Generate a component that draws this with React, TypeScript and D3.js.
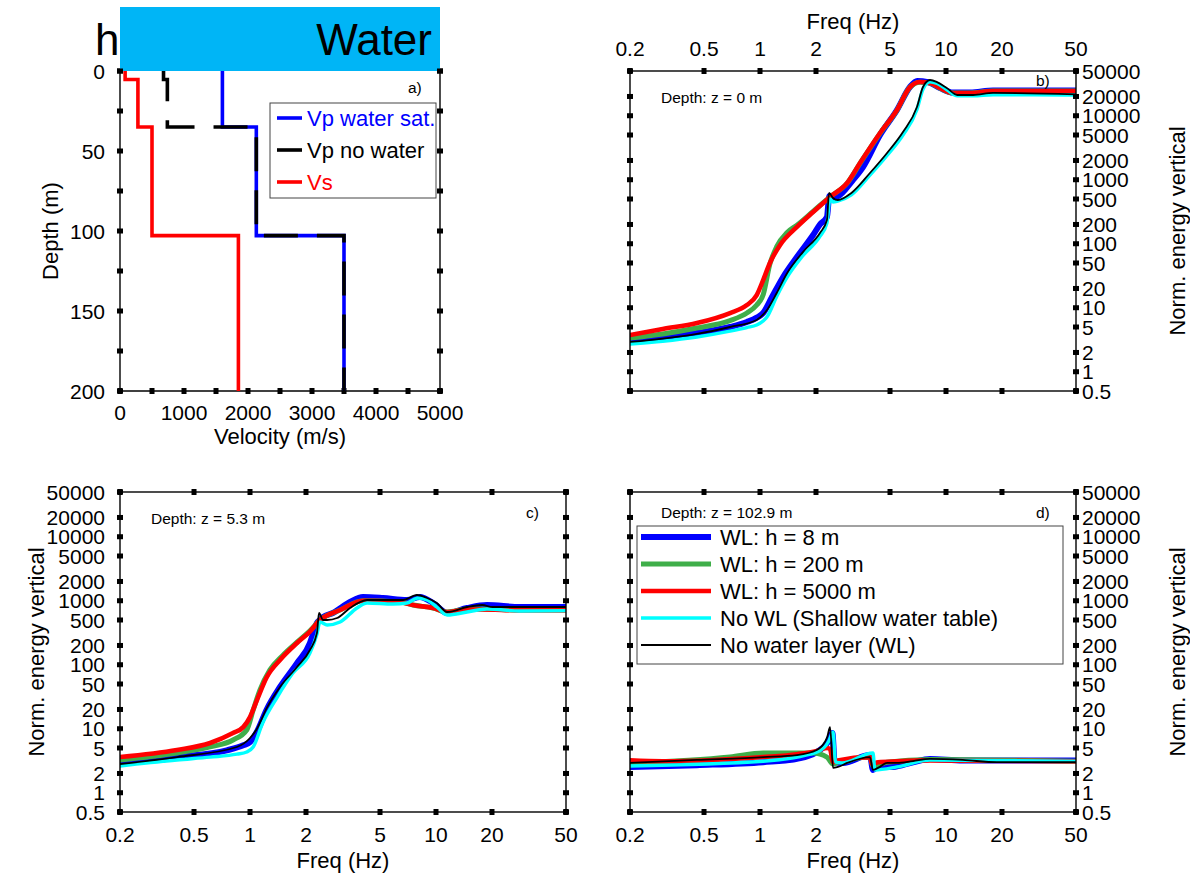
import React from 'react';
import * as d3 from 'd3';

// ---------- ticks ----------
const freqTicks = [0.2, 0.5, 1, 2, 5, 10, 20, 50];
const energyTicks = [0.5, 1, 2, 5, 10, 20, 50, 100, 200, 500, 1000, 2000, 5000, 10000, 20000, 50000];
const depthTicks = [0, 25, 50, 75, 100, 125, 150, 175, 200];
const depthLabels = [0, 50, 100, 150, 200];
const velTicks = [0, 500, 1000, 1500, 2000, 2500, 3000, 3500, 4000, 4500, 5000];
const velLabels = [0, 1000, 2000, 3000, 4000, 5000];

// ---------- panel a: velocity profiles ----------
const layerTops = [0, 5.3, 35, 102.9];
const maxDepth = 200;
const vsLayers = [80, 280, 500, 1850];
const vpSatLayers = [1600, 1600, 2130, 3500];
const vpDryLayers = [680, 740, 2130, 3500];
const profileNames = ['Vp water sat.', 'Vp no water', 'Vs'];

// ---------- panel b: z = 0 m ----------
const bH8 = [[0.2,2.92],[0.3,3.3],[0.458,4.03],[0.69,5.0],[0.85,5.98],[0.96,7.0],[1.04,8.27],[1.16,14.7],[1.33,30],[1.58,62],[1.93,137],[2.1,200],[2.29,262],[2.36,560],[2.45,520],[2.6,540],[3.16,990],[3.58,1580],[4.42,5000],[5.45,12300],[6.4,28100],[7.0,35000],[8.0,33500],[9.28,27100],[10.9,23000],[13.5,23000],[17.9,24800],[50,24800]];
const bH200 = [[0.2,3.37],[0.3,3.9],[0.458,4.82],[0.69,6.3],[0.85,8.27],[0.96,11],[1.04,16],[1.13,48],[1.23,90],[1.4,150],[1.58,195],[1.93,320],[2.38,540],[2.94,880],[3.45,1800],[4.42,5300],[5.45,12200],[6.4,28000],[7.25,33500],[8.2,32400],[9.28,27000],[10.9,22700],[13.5,22700],[17.9,24300],[50,24300]];
const bH5000 = [[0.2,3.75],[0.3,4.65],[0.458,5.77],[0.69,8.27],[0.85,11],[0.96,15.8],[1.04,27],[1.13,50],[1.28,95],[1.58,183],[1.93,313],[2.38,537],[2.94,889],[3.45,1826],[4.42,5370],[5.45,12300],[6.4,28100],[7.25,33600],[8.2,32500],[9.28,27100],[10.9,22700],[13.5,22700],[17.9,24400],[50,24400]];
const bShallow = [[0.2,2.71],[0.3,3.0],[0.458,3.49],[0.69,4.3],[0.85,4.9],[0.96,5.37],[1.04,6.2],[1.09,7.16],[1.23,15],[1.4,30],[1.7,65],[2.1,130],[2.29,210],[2.38,500],[2.47,449],[2.62,465],[3.1,580],[3.9,1180],[4.82,2400],[5.87,5000],[6.98,12500],[7.52,26000],[8.2,34000],[8.95,32000],[10.1,25500],[11.5,20500],[14,20500],[17.9,21300],[50,21000]];
const bNoWL = [[0.2,2.92],[0.3,3.3],[0.458,3.89],[0.69,5.0],[0.96,6.44],[1.09,9.22],[1.23,17],[1.4,34.9],[1.7,74],[2.1,147],[2.29,235],[2.35,621],[2.47,519],[2.62,482],[3.1,621],[3.9,1274],[4.82,2620],[5.87,5570],[6.98,13700],[7.52,28100],[8.2,36200],[8.95,33600],[10.1,27100],[11.5,21100],[14,21100],[17.9,22700],[50,21500]];

// ---------- panel c: z = 5.3 m ----------
const cH8 = [[0.2,2.92],[0.405,3.61],[0.75,4.6],[0.92,5.5],[1.0,6.2],[1.09,9],[1.23,20],[1.45,45],[1.79,106],[2.1,218],[2.18,300],[2.29,449],[2.38,500],[2.47,557],[2.79,643],[3.45,955],[4.05,1143],[5.19,1104],[6.98,1027],[8.2,1143],[9.64,922],[11.5,643],[14.7,770],[18.8,857],[28.3,798],[50,798]];
const cH200 = [[0.2,3.25],[0.405,4.18],[0.61,5.2],[0.81,6.67],[0.96,9.55],[1.04,19.6],[1.13,40],[1.28,83],[1.5,140],[1.79,225],[2.1,340],[2.38,500],[3.05,716],[4.05,1000],[6.4,955],[7.52,857],[9.64,770],[11.5,667],[14.7,743],[17.7,743],[28.3,716],[50,716]];
const cH5000 = [[0.2,3.61],[0.405,4.65],[0.61,5.98],[0.81,8.57],[0.92,10.6],[1.0,15.2],[1.09,28.1],[1.23,64],[1.45,119],[1.79,219],[2.1,330],[2.38,500],[3.05,716],[4.05,1000],[6.4,955],[7.52,857],[9.64,770],[11.5,667],[14.7,730],[17.7,730],[28.3,710],[50,710]];
const cShallow = [[0.2,2.62],[0.405,3.25],[0.61,3.6],[0.85,4.0],[0.96,4.33],[1.04,5.18],[1.17,12.3],[1.4,31],[1.7,74],[2.1,152],[2.29,300],[2.38,465],[2.6,418],[3.05,465],[3.76,770],[4.26,922],[5.87,889],[6.98,922],[8.0,1104],[8.95,1027],[10.1,798],[11.5,598],[14.7,667],[18.8,743],[28.3,692],[50,700]];
const cNoWL = [[0.2,2.81],[0.405,3.61],[0.85,5.18],[1.0,7.16],[1.09,10],[1.23,21],[1.45,45],[1.79,92],[2.1,170],[2.29,313],[2.35,643],[2.47,500],[2.6,500],[2.94,537],[3.45,770],[4.26,1027],[5.19,1027],[6.65,1027],[7.9,1230],[8.95,1104],[10.1,922],[11.5,667],[14.7,798],[17.7,857],[20.2,798],[50,798]];

// ---------- panel d: z = 102.9 m ----------
const dH8 = [[0.2,2.53],[0.458,2.7],[1.04,3.0],[1.58,3.4],[2.02,4.33],[2.3,6],[2.45,8.57],[2.52,3.0],[2.79,2.92],[3.9,3.88],[4.05,2.27],[4.31,2.6],[5.19,2.53],[6.65,3.0],[8.2,3.37],[12.3,3.2],[50,3.2]];
const dH200 = [[0.2,2.92],[0.69,3.61],[1.04,4.18],[1.93,4.18],[2.29,3.61],[2.47,2.8],[2.62,3.0],[3.9,3.6],[4.05,2.6],[4.82,3.0],[8.2,3.3],[50,3.1]];
const dH5000 = [[0.2,3.2],[0.3,3.1],[1.04,3.61],[1.58,4.0],[2.02,4.5],[2.3,5.0],[2.38,4.8],[2.47,3.0],[2.62,3.2],[3.9,3.6],[4.0,2.8],[4.31,3.0],[5.45,3.1],[8.2,3.2],[50,3.1]];
const dShallow = [[0.2,2.62],[1.04,3.1],[2.02,4.3],[2.35,6.5],[2.47,8.9],[2.55,3.0],[2.76,2.92],[4.05,4.18],[4.15,2.27],[5.45,2.53],[8.2,3.25],[50,3.1]];
const dNoWL = [[0.2,2.92],[0.458,3.25],[1.04,3.61],[1.58,3.88],[2.02,4.65],[2.23,6.2],[2.3,7.5],[2.38,10.6],[2.47,2.44],[2.62,2.53],[2.94,2.92],[3.9,3.61],[4.05,2.27],[4.31,2.44],[4.82,2.92],[5.45,2.92],[6.65,3.13],[8.2,3.37],[12.3,3.25],[18.8,3.0],[50,3.0]];

const seriesNames = ['WL: h = 8 m', 'WL: h = 200 m', 'WL: h = 5000 m', 'No WL (Shallow water table)', 'No water layer (WL)'];
const seriesColors = ['#0000ff', '#3fae49', '#ff0000', '#00ffff', '#000000'];
const seriesWidths = [6, 5, 4.6, 3.4, 1.8];

const FONT = '"Liberation Sans", Arial, Helvetica, sans-serif';

function TickSq({ x, y, horiz }: { x: number; y: number; horiz: boolean }) {
  return horiz
    ? <rect x={x - 3} y={y - 2.5} width={6} height={5} fill="#000" />
    : <rect x={x - 2.5} y={y - 3} width={5} height={6} fill="#000" />;
}

type PanelProps = {
  id: string; x0: number; x1: number; y0: number; y1: number;
  series: number[][][];
  leftLabels?: boolean; rightLabels?: boolean; topLabels?: boolean; bottomLabels?: boolean;
  depthText: string; depthY: number; tag: string; tagY: number;
};

function FreqPanel(p: PanelProps) {
  const xs = d3.scaleLog().domain([0.2, 50]).range([p.x0, p.x1]);
  const ys = d3.scaleLog().domain([0.5, 50000]).range([p.y1, p.y0]);
  const line = d3.line<number[]>().x(d => xs(d[0])).y(d => ys(d[1])).curve(d3.curveMonotoneX);
  const order = [0, 1, 2, 3, 4];
  return (
    <g>
      <defs>
        <clipPath id={`clip-${p.id}`}>
          <rect x={p.x0} y={p.y0} width={p.x1 - p.x0} height={p.y1 - p.y0} />
        </clipPath>
      </defs>
      <g clipPath={`url(#clip-${p.id})`}>
        {order.map(i => (
          <path key={i} d={line(p.series[i] as any) || ''} fill="none" stroke={seriesColors[i]}
            strokeWidth={seriesWidths[i]} strokeLinejoin="round" strokeLinecap="round" />
        ))}
      </g>
      <rect x={p.x0} y={p.y0} width={p.x1 - p.x0} height={p.y1 - p.y0} fill="none" stroke="#000" strokeWidth={1.4} />
      {freqTicks.map(t => (
        <g key={'fx' + t}>
          <TickSq x={xs(t)} y={p.y0} horiz={false} />
          <TickSq x={xs(t)} y={p.y1} horiz={false} />
          {p.topLabels && <text x={xs(t)} y={p.y0 - 15} textAnchor="middle" fontSize={21}>{t}</text>}
          {p.bottomLabels && <text x={xs(t)} y={p.y1 + 30} textAnchor="middle" fontSize={21}>{t}</text>}
        </g>
      ))}
      {energyTicks.map(t => (
        <g key={'ey' + t}>
          <TickSq x={p.x0} y={ys(t)} horiz={true} />
          <TickSq x={p.x1} y={ys(t)} horiz={true} />
          {p.leftLabels && <text x={p.x0 - 15} y={ys(t) + 7.5} textAnchor="end" fontSize={21}>{t}</text>}
          {p.rightLabels && <text x={p.x1 + 6} y={ys(t) + 7.5} textAnchor="start" fontSize={21}>{t}</text>}
        </g>
      ))}
      <text x={p.x0 + 31} y={p.depthY} fontSize={15.5}>{p.depthText}</text>
      <text x={p.x0 + 406} y={p.tagY} fontSize={15.5}>{p.tag}</text>
    </g>
  );
}

function ProfilePanel() {
  const x0 = 120, x1 = 440, y0 = 71, y1 = 391;
  const xs = d3.scaleLinear().domain([0, 5000]).range([x0, x1]);
  const ys = d3.scaleLinear().domain([0, maxDepth]).range([y0, y1]);
  const stepPts = (vels: number[]) => {
    const pts: number[][] = [];
    vels.forEach((v, i) => {
      const top = layerTops[i];
      const bot = i + 1 < layerTops.length ? layerTops[i + 1] : maxDepth;
      pts.push([v, top], [v, bot]);
    });
    return pts;
  };
  const line = d3.line<number[]>().x(d => xs(d[0])).y(d => ys(d[1]));
  const lgX = 270, lgY = 103, lgW = 166, lgH = 95;
  const lgColors = ['#0000ff', '#000000', '#ff0000'];
  return (
    <g>
      {depthTicks.map(t => (
        <g key={'dt' + t}>
          <TickSq x={x0} y={ys(t)} horiz={true} />
          <TickSq x={x1} y={ys(t)} horiz={true} />
        </g>
      ))}
      {velTicks.map(t => <TickSq key={'vt' + t} x={xs(t)} y={y1} horiz={false} />)}
      <line x1={x0} x2={x0} y1={y0} y2={y1} stroke="#000" strokeWidth={1.4} />
      <line x1={x1} x2={x1} y1={y0} y2={y1} stroke="#000" strokeWidth={1.4} />
      <line x1={x0} x2={x1} y1={y1} y2={y1} stroke="#000" strokeWidth={1.4} />
      <path d={line(stepPts(vsLayers)) || ''} fill="none" stroke="#ff0000" strokeWidth={3.6} />
      <path d={line(stepPts(vpSatLayers)) || ''} fill="none" stroke="#0000ff" strokeWidth={3.6} />
      <path d={line(stepPts(vpDryLayers)) || ''} fill="none" stroke="#000" strokeWidth={3.6} strokeDasharray="34 19" />
      <rect x={x0} y={7} width={x1 - x0} height={y0 - 7} fill="#00b5f6" />
      <TickSq x={x0} y={y0} horiz={true} />
      <TickSq x={x1} y={y0} horiz={true} />
      <text x={432} y={55} textAnchor="end" fontSize={44}>Water</text>
      <text x={95} y={55} fontSize={44}>h</text>
      <text x={408} y={93} fontSize={15.5}>a)</text>
      {depthLabels.map(t => (
        <text key={'dl' + t} x={x0 - 15} y={ys(t) + 7.5} textAnchor="end" fontSize={21}>{t}</text>
      ))}
      {velLabels.map(t => (
        <text key={'vl' + t} x={xs(t)} y={y1 + 29} textAnchor="middle" fontSize={21}>{t}</text>
      ))}
      <text x={(x0 + x1) / 2} y={444} textAnchor="middle" fontSize={22}>Velocity (m/s)</text>
      <text transform={`translate(58,${(y0 + y1) / 2}) rotate(-90)`} textAnchor="middle" fontSize={22}>Depth (m)</text>
      <rect x={lgX} y={lgY} width={lgW} height={lgH} fill="#fff" stroke="#444" strokeWidth={1} />
      {profileNames.map((n, i) => (
        <g key={n}>
          <line x1={lgX + 7} x2={lgX + 32} y1={lgY + 15 + i * 32} y2={lgY + 15 + i * 32} stroke={lgColors[i]} strokeWidth={3.6} />
          <text x={lgX + 37} y={lgY + 23 + i * 32} fontSize={22} fill={lgColors[i]}>{n}</text>
        </g>
      ))}
    </g>
  );
}

function Legend() {
  const x = 637, y = 526, w = 426, h = 138;
  return (
    <g>
      <rect x={x} y={y} width={w} height={h} fill="#fff" stroke="#444" strokeWidth={1} />
      {seriesNames.map((n, i) => (
        <g key={n}>
          <line x1={x + 4} x2={x + 74} y1={y + 11 + i * 27} y2={y + 11 + i * 27} stroke={seriesColors[i]} strokeWidth={seriesWidths[i]} />
          <text x={x + 83} y={y + 19 + i * 27} fontSize={22}>{n}</text>
        </g>
      ))}
    </g>
  );
}

export default function App() {
  return (
    <svg width={1190} height={880} style={{ position: 'absolute', left: 0, top: 0, background: '#fff' }}
      fontFamily={FONT}>
      <rect x={0} y={0} width={1190} height={880} fill="#fff" />
      <ProfilePanel />
      <FreqPanel id="b" x0={630} x1={1076} y0={71} y1={391} series={[bH8, bH200, bH5000, bShallow, bNoWL]}
        rightLabels topLabels depthText="Depth: z = 0 m" depthY={103} tag="b)" tagY={86} />
      <text x={853} y={29} textAnchor="middle" fontSize={22}>Freq (Hz)</text>
      <text transform="translate(1185,231) rotate(-90)" textAnchor="middle" fontSize={22}>Norm. energy vertical</text>

      <FreqPanel id="c" x0={120} x1={566} y0={492} y1={812} series={[cH8, cH200, cH5000, cShallow, cNoWL]}
        leftLabels bottomLabels depthText="Depth: z = 5.3 m" depthY={524} tag="c)" tagY={518} />
      <text x={343} y={868} textAnchor="middle" fontSize={22}>Freq (Hz)</text>
      <text transform="translate(44,652) rotate(-90)" textAnchor="middle" fontSize={22}>Norm. energy vertical</text>

      <FreqPanel id="d" x0={630} x1={1076} y0={492} y1={812} series={[dH8, dH200, dH5000, dShallow, dNoWL]}
        rightLabels bottomLabels depthText="Depth: z = 102.9 m" depthY={518} tag="d)" tagY={518} />
      <Legend />
      <text x={853} y={868} textAnchor="middle" fontSize={22}>Freq (Hz)</text>
      <text transform="translate(1185,652) rotate(-90)" textAnchor="middle" fontSize={22}>Norm. energy vertical</text>
    </svg>
  );
}
